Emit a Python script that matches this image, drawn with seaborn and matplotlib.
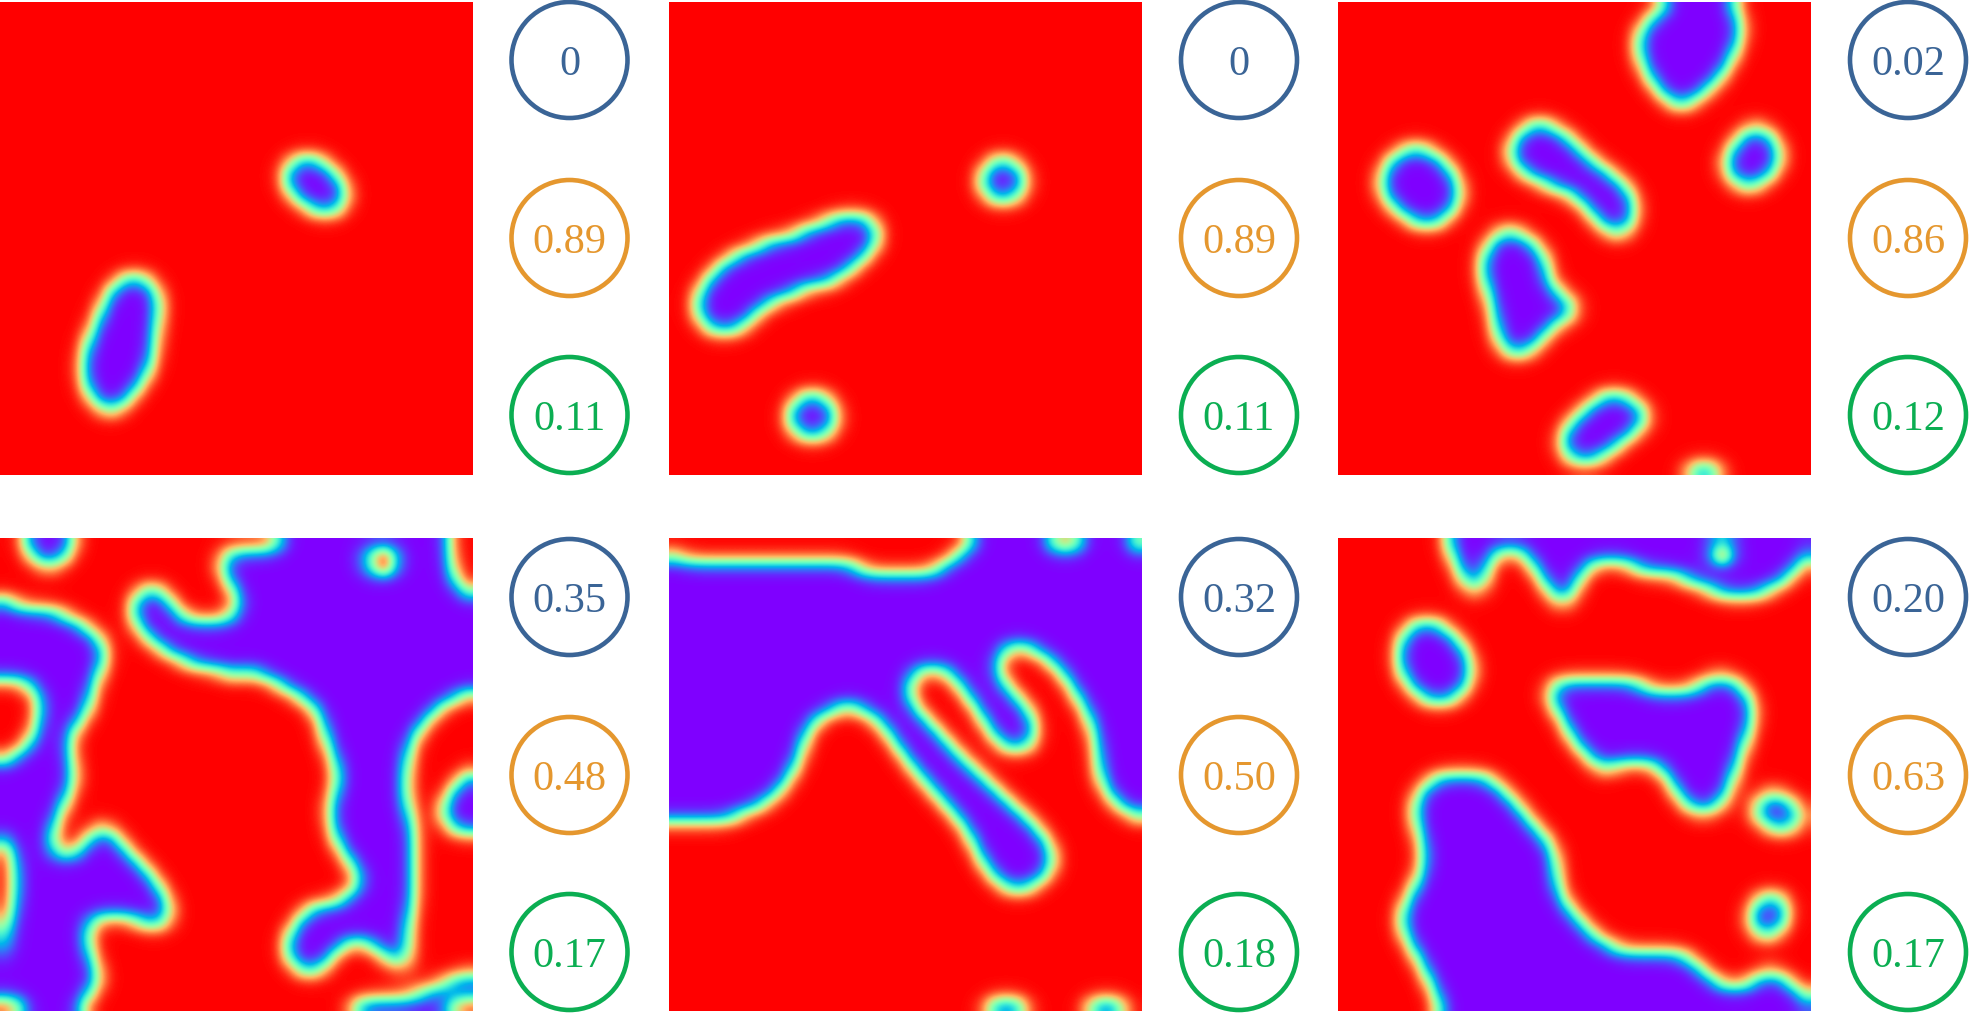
import numpy as np
import seaborn as sns
import matplotlib.pyplot as plt
from matplotlib.patches import Circle

plt.rcParams['font.family'] = ['Liberation Serif', 'DejaVu Serif']

# circle labels, one row per panel: top, middle, bottom
labels_top = ['0', '0', '0.02', '0.35', '0.32', '0.20']
labels_mid = ['0.89', '0.89', '0.86', '0.48', '0.50', '0.63']
labels_bot = ['0.11', '0.11', '0.12', '0.17', '0.18', '0.17']

n_cells = 40

# violet stretches per grid row
# {row: [(x_from, x_to), ...]}, x in the units of the reading below
read_1 = (0, 1124)
field_1 = {
    13: [(690, 770)], 14: [(668, 800)], 15: [(675, 822)], 16: [(695, 832)], 17: [(735, 815)],
    23: [(285, 355)], 24: [(255, 378)], 25: [(245, 382)], 26: [(235, 378)], 27: [(222, 373)],
    28: [(210, 370)], 29: [(200, 368)], 30: [(195, 362)], 31: [(195, 352)], 32: [(200, 335)],
    33: [(215, 310)], 34: [(240, 285)],
}

read_2 = (21, 1145)
field_2 = {
    13: [(785, 845)], 14: [(760, 870)], 15: [(755, 875)], 16: [(775, 855)],
    18: [(400, 510)], 19: [(330, 525)], 20: [(240, 518)], 21: [(175, 490)], 22: [(135, 460)],
    23: [(110, 420)], 24: [(90, 330)], 25: [(82, 260)], 26: [(85, 225)], 27: [(105, 200)],
    33: [(325, 400)], 34: [(302, 422)], 35: [(298, 425)], 36: [(320, 405)],
}

read_3 = (20, 1177)
field_3 = {
    0: [(825, 985)], 1: [(775, 1010)], 2: [(755, 1012)], 3: [(750, 1000)], 4: [(755, 990)],
    5: [(765, 975)], 6: [(780, 955)], 7: [(800, 925)], 8: [(830, 890)],
    10: [(480, 545), (1025, 1055)], 11: [(450, 590), (1000, 1090)],
    12: [(180, 240), (432, 615), (978, 1105)], 13: [(140, 285), (440, 645), (958, 1108)],
    14: [(125, 305), (470, 690), (968, 1088)], 15: [(120, 320), (530, 725), (995, 1050)],
    16: [(130, 325), (600, 745)], 17: [(155, 310), (630, 752)], 18: [(195, 280), (650, 745)],
    19: [(410, 465), (680, 730)], 20: [(388, 505)], 21: [(372, 530)], 22: [(368, 535)],
    23: [(375, 530)], 24: [(385, 555)], 25: [(392, 610)], 26: [(400, 605)], 27: [(405, 540)],
    28: [(410, 522)], 29: [(420, 495)],
    33: [(655, 735)], 34: [(620, 780)], 35: [(590, 785)], 36: [(565, 745)], 37: [(560, 705)],
    38: [(575, 670)], 39: [(870, 960)],
}

read_4 = (0, 1124)
field_4 = {
    0: [(55, 178), (672, 1068)], 1: [(70, 165), (522, 855), (955, 1072)],
    2: [(100, 130), (518, 865), (945, 1075)], 3: [(538, 1078)],
    4: [(330, 390), (555, 1100)], 5: [(0, 30), (310, 410), (575, 1124)],
    6: [(0, 150), (312, 425), (560, 1124)], 7: [(0, 205), (325, 1124)],
    8: [(0, 240), (350, 1124)], 9: [(0, 255), (385, 1124)], 10: [(0, 250), (440, 1124)],
    11: [(0, 235), (535, 575), (615, 1124)], 12: [(75, 225), (665, 1124)],
    13: [(95, 215), (715, 1090)], 14: [(95, 215), (752, 1040)], 15: [(88, 195), (762, 1015)],
    16: [(80, 165), (770, 990)], 17: [(70, 165), (775, 978)], 18: [(30, 170), (790, 970)],
    19: [(0, 175), (800, 968), (1115, 1124)], 20: [(0, 183), (805, 965), (1090, 1124)],
    21: [(0, 165), (795, 965), (1070, 1124)], 22: [(0, 155), (780, 968), (1050, 1124)],
    23: [(0, 140), (782, 975), (1045, 1124)], 24: [(0, 130), (225, 260), (788, 985), (1065, 1124)],
    25: [(18, 122), (205, 285), (795, 985)], 26: [(28, 118), (190, 302), (812, 985)],
    27: [(32, 335), (830, 985)], 28: [(35, 362), (858, 985)], 29: [(35, 380), (858, 985)],
    30: [(32, 398), (815, 985)], 31: [(30, 410), (725, 980)],
    32: [(22, 205), (330, 405), (705, 972)], 33: [(15, 210), (685, 970)],
    34: [(20, 210), (675, 815), (885, 972)], 35: [(10, 218), (680, 785), (915, 972)],
    36: [(0, 232), (705, 770), (945, 975), (1120, 1124)], 37: [(0, 245), (1060, 1124)],
    38: [(0, 215), (1000, 1124)], 39: [(60, 190), (830, 1060)],
}

read_5 = (21, 1145)
field_5 = {
    0: [(745, 920), (1005, 1115)], 1: [(21, 38), (705, 1145)], 2: [(21, 470), (665, 1145)],
    3: [(21, 1145)], 4: [(21, 1145)], 5: [(21, 1145)], 6: [(21, 1145)], 7: [(21, 1145)],
    8: [(21, 1145)], 9: [(21, 815), (885, 1145)], 10: [(21, 800), (930, 1145)],
    11: [(21, 600), (690, 800), (955, 1145)], 12: [(21, 590), (710, 825), (975, 1145)],
    13: [(21, 590), (730, 850), (990, 1145)],
    14: [(21, 420), (475, 610), (752, 878), (1010, 1145)],
    15: [(21, 365), (520, 640), (768, 890), (1020, 1145)],
    16: [(21, 350), (540, 665), (785, 895), (1030, 1145)],
    17: [(21, 340), (558, 690), (805, 890), (1035, 1145)],
    18: [(21, 335), (580, 715), (1040, 1145)], 19: [(21, 320), (600, 745), (1040, 1145)],
    20: [(21, 305), (625, 775), (1045, 1145)], 21: [(21, 285), (650, 805), (1060, 1145)],
    22: [(21, 250), (675, 835), (1080, 1145)], 23: [(21, 185), (700, 870), (1125, 1145)],
    24: [(725, 895)], 25: [(738, 920)], 26: [(752, 935)], 27: [(765, 940)], 28: [(785, 925)],
    29: [(815, 885)], 39: [(770, 875), (1010, 1110)],
}

read_6 = (20, 1177)
field_6 = {
    0: [(285, 945), (970, 1172)], 1: [(298, 395), (485, 915), (1000, 1165)],
    2: [(312, 385), (495, 625), (745, 1145)], 3: [(322, 385), (518, 612), (865, 1125)],
    4: [(335, 375), (535, 598), (935, 1070)], 5: [(550, 592)],
    7: [(190, 280)], 8: [(172, 315)], 9: [(165, 335)], 10: [(165, 348)],
    11: [(172, 352), (940, 960)], 12: [(190, 340), (535, 765), (905, 1010)],
    13: [(220, 315), (525, 1030)], 14: [(555, 1040)], 15: [(570, 1035)], 16: [(582, 1025)],
    17: [(600, 1015)], 18: [(635, 1005)], 19: [(650, 690), (810, 995)],
    20: [(245, 400), (830, 985)], 21: [(215, 430), (845, 975), (1070, 1100)],
    22: [(205, 460), (865, 960), (1040, 1138)], 23: [(205, 480), (905, 925), (1025, 1162)],
    24: [(212, 505), (1075, 1140)], 25: [(222, 535)], 26: [(230, 550)], 27: [(228, 555)],
    28: [(222, 555)], 29: [(205, 558)], 30: [(190, 570), (1045, 1115)],
    31: [(175, 590), (1028, 1125)], 32: [(170, 620), (1020, 1118)], 33: [(180, 640), (1040, 1098)],
    34: [(195, 690)], 35: [(215, 880)], 36: [(228, 910), (1065, 1085)],
    37: [(242, 945), (1035, 1125)], 38: [(255, 1155)], 39: [(270, 1170)],
}

fields = [field_1, field_2, field_3, field_4, field_5, field_6]
reads = [read_1, read_2, read_3, read_4, read_5, read_6]

# the tiny red dots inside the violet: (row, col) of their centre cells
red_spots = {3: [(1, 32), (2, 32)], 5: [(1, 32)]}

W, H = 1971, 1013
panel_x = [0, 669, 1338, 0, 669, 1338]
panel_y = [2, 2, 2, 538, 538, 538]
panel_size = 473
circle_x = [569.5, 1239, 1908, 569.5, 1239, 1908]
circle_y_rows = [[60, 238, 415], [597, 775, 952]]
circle_r = 58
colors = ['#3a6496', '#e5972e', '#0bae52']


def to_grid(field, read):
    # 1 = red, 0 = violet, cells partly covered get the covered share
    grid = np.ones((n_cells, n_cells))
    cell = (read[1] - read[0]) / n_cells
    edges = read[0] + cell * np.arange(n_cells + 1)
    for row, spans in field.items():
        for a, b in spans:
            cover = np.minimum(b, edges[1:]) - np.maximum(a, edges[:-1])
            grid[row] -= np.clip(cover, 0, None) / cell
    return np.clip(grid, 0, 1)


def soften(grid):
    # only for display: round off the cell steps, then tighten the edge again
    kernel = np.array([0.06, 0.24, 0.4, 0.24, 0.06])
    pad = np.pad(grid, 2, mode='edge')
    pad = np.apply_along_axis(np.convolve, 0, pad, kernel, mode='same')
    pad = np.apply_along_axis(np.convolve, 1, pad, kernel, mode='same')
    out = pad[2:-2, 2:-2]
    return 0.5 + 0.5 * np.tanh(5 * (out - 0.5)) / np.tanh(2.5)


fig = plt.figure(figsize=(W / 100, H / 100), dpi=100)
sns.set_style('white')
plt.rcParams['font.family'] = ['Liberation Serif', 'DejaVu Serif']

for i in range(6):
    ax = fig.add_axes([panel_x[i] / W, 1 - (panel_y[i] + panel_size) / H, panel_size / W, panel_size / H])
    grid = to_grid(fields[i], reads[i])
    sns.heatmap(grid, ax=ax, cmap='rainbow', vmin=0, vmax=1, cbar=False,
                xticklabels=False, yticklabels=False)
    smooth = soften(grid)
    for row, col in red_spots.get(i, []):
        smooth[row, col] = 1
    # heatmap cells are hard-edged, the original is a smooth field
    ax.imshow(smooth, cmap='rainbow', vmin=0, vmax=1, aspect='auto', interpolation='bicubic',
              extent=(0, n_cells, n_cells, 0), zorder=3)
    ax.set_xlim(0, n_cells)
    ax.set_ylim(n_cells, 0)
    ax.axis('off')

over = fig.add_axes([0, 0, 1, 1])
over.set_xlim(0, W)
over.set_ylim(H, 0)
over.axis('off')
over.patch.set_alpha(0)

for i in range(6):
    texts = [labels_top[i], labels_mid[i], labels_bot[i]]
    ys = circle_y_rows[i // 3]
    for j in range(3):
        over.add_patch(Circle((circle_x[i], ys[j]), circle_r, fill=False, ec=colors[j], lw=3.3))
        over.text(circle_x[i], ys[j] + 4.5, texts[j], color=colors[j], fontsize=30.5,
                  ha='center', va='center')

fig.savefig('out.png', dpi=100)
